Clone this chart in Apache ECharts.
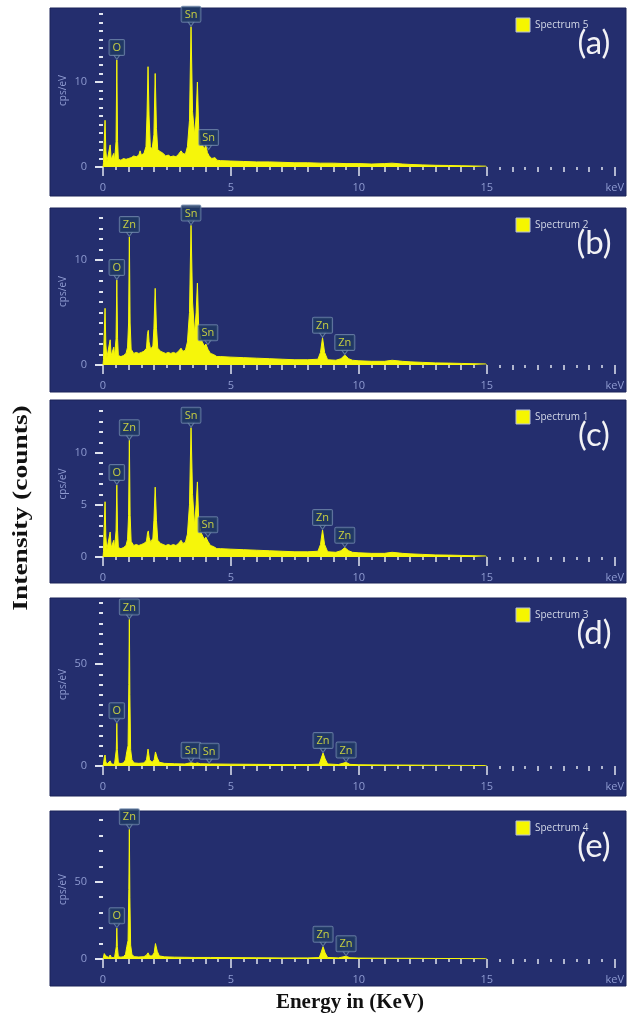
<!DOCTYPE html>
<html><head><meta charset="utf-8">
<script src="https://cdn.jsdelivr.net/npm/echarts@6/dist/echarts.min.js"></script>
<style>html,body{margin:0;padding:0;background:#fff}#c{width:627px;height:1023px}</style>
</head><body><div id="c"></div>
<script>
// ---- data (keV, cps/eV) ----
const panelTags = ['(a)','(b)','(c)','(d)','(e)'];
const legendNames = ['Spectrum 5','Spectrum 2','Spectrum 1','Spectrum 3','Spectrum 4'];
const xTickLabels = [0,5,10,15,20];
const yMax = [18,14,14,80,90];
const yMinorStep = [1,1,1,5,10];
const yTickLabels = [[0,10],[0,10],[0,5,10],[0,50],[0,50]];

const spectrumA = [[0,0],[0.02,0.5],[0.05,3],[0.08,5.5],[0.11,2],[0.15,0.6],[0.22,0.8],[0.28,2.6],[0.32,0.9],[0.38,0.7],[0.42,1.6],[0.45,0.7],[0.49,0.8],[0.51,3],[0.54,12.6],[0.57,3],[0.6,0.9],[0.7,0.8],[0.8,1.0],[0.9,0.9],[1.0,1.0],[1.1,1.1],[1.2,1.3],[1.3,1.2],[1.4,1.4],[1.45,1.9],[1.5,1.4],[1.6,1.6],[1.68,2.4],[1.72,6],[1.76,11.8],[1.8,6],[1.85,2.4],[1.92,2.1],[1.99,3.8],[2.04,11.0],[2.09,4.5],[2.14,2.0],[2.25,1.8],[2.35,1.6],[2.45,1.3],[2.55,1.4],[2.65,1.2],[2.75,1.3],[2.85,1.2],[2.95,1.5],[3.05,1.9],[3.12,1.6],[3.22,1.5],[3.3,2.4],[3.38,5.5],[3.44,16.5],[3.5,6.5],[3.58,3.8],[3.64,6],[3.69,10.0],[3.74,4.5],[3.82,2.8],[3.9,2.5],[3.96,2.1],[4.02,2.6],[4.08,1.7],[4.15,1.3],[4.25,1.0],[4.32,1.2],[4.38,1.1],[4.45,0.8],[4.6,0.75],[5.0,0.7],[5.5,0.65],[6.0,0.6],[6.5,0.6],[7.0,0.55],[7.5,0.5],[8.0,0.5],[8.5,0.45],[9.0,0.45],[9.5,0.4],[10.0,0.4],[10.5,0.35],[11.0,0.4],[11.3,0.45],[11.7,0.35],[12.0,0.3],[12.5,0.25],[13.0,0.2],[13.5,0.18],[14.0,0.15],[14.5,0.12],[14.95,0.1],[15.0,0]];
const spectrumB = [[0,0],[0.02,0.5],[0.05,3],[0.08,5.4],[0.11,2],[0.15,0.7],[0.22,0.8],[0.28,2.4],[0.32,0.9],[0.38,0.8],[0.42,1.7],[0.45,0.8],[0.49,0.9],[0.51,2.5],[0.54,8.1],[0.57,2.5],[0.6,0.9],[0.7,0.8],[0.8,0.9],[0.9,1.1],[0.96,1.7],[1.0,4],[1.03,12.2],[1.06,4],[1.1,1.5],[1.2,1.1],[1.3,1.2],[1.4,1.1],[1.5,1.2],[1.6,1.3],[1.7,1.6],[1.74,3.0],[1.77,3.3],[1.8,2.2],[1.86,1.5],[1.95,1.8],[1.99,3.5],[2.04,7.3],[2.09,3.5],[2.14,1.6],[2.25,1.3],[2.35,1.2],[2.45,1.1],[2.55,1.2],[2.65,1.1],[2.75,1.2],[2.85,1.1],[2.95,1.3],[3.05,1.6],[3.12,1.3],[3.22,1.4],[3.3,2.2],[3.38,5],[3.44,13.3],[3.5,6],[3.58,3],[3.64,5],[3.69,7.8],[3.74,3.5],[3.82,2.5],[3.9,2.1],[3.96,1.8],[4.02,2.0],[4.1,1.5],[4.2,1.1],[4.32,1.0],[4.45,0.8],[4.6,0.8],[5.0,0.75],[5.5,0.7],[6.0,0.65],[6.5,0.6],[7.0,0.55],[7.5,0.5],[8.0,0.5],[8.4,0.55],[8.5,1.2],[8.58,2.6],[8.66,1.2],[8.78,0.5],[9.1,0.45],[9.3,0.6],[9.45,0.95],[9.6,0.6],[9.75,0.45],[10.0,0.4],[10.5,0.35],[11.0,0.35],[11.3,0.45],[11.7,0.35],[12.0,0.3],[12.5,0.25],[13.0,0.2],[13.5,0.18],[14.0,0.15],[14.5,0.12],[14.95,0.1],[15.0,0]];
const spectrumC = [[0,0],[0.02,0.5],[0.05,3],[0.08,5.3],[0.11,2],[0.15,0.7],[0.22,0.8],[0.28,2.4],[0.32,0.9],[0.38,0.8],[0.42,1.6],[0.45,0.8],[0.49,0.9],[0.51,2.5],[0.54,6.9],[0.57,2.5],[0.6,0.9],[0.7,0.8],[0.8,0.9],[0.9,1.1],[0.96,1.7],[1.0,4],[1.03,11.2],[1.06,4],[1.1,1.5],[1.2,1.1],[1.3,1.2],[1.4,1.1],[1.5,1.2],[1.6,1.3],[1.7,1.5],[1.74,2.3],[1.77,2.5],[1.8,1.9],[1.86,1.4],[1.95,1.8],[1.99,3.5],[2.04,6.7],[2.09,3.5],[2.14,1.6],[2.25,1.3],[2.35,1.2],[2.45,1.1],[2.55,1.2],[2.65,1.1],[2.75,1.2],[2.85,1.1],[2.95,1.3],[3.05,1.6],[3.12,1.3],[3.22,1.4],[3.3,2.2],[3.38,5],[3.44,12.4],[3.5,6],[3.58,3],[3.64,5],[3.69,7.2],[3.74,3.5],[3.82,2.4],[3.9,2.0],[3.96,1.7],[4.02,1.9],[4.1,1.5],[4.2,1.1],[4.32,1.0],[4.45,0.8],[4.6,0.8],[5.0,0.75],[5.5,0.7],[6.0,0.65],[6.5,0.6],[7.0,0.55],[7.5,0.5],[8.0,0.5],[8.4,0.55],[8.5,1.2],[8.58,2.6],[8.66,1.2],[8.78,0.5],[9.1,0.45],[9.3,0.6],[9.45,0.9],[9.6,0.6],[9.75,0.45],[10.0,0.4],[10.5,0.35],[11.0,0.35],[11.3,0.45],[11.7,0.35],[12.0,0.3],[12.5,0.25],[13.0,0.2],[13.5,0.18],[14.0,0.15],[14.5,0.12],[14.95,0.1],[15.0,0]];
const spectrumD = [[0,0],[0.02,1],[0.05,4],[0.08,5.4],[0.11,2],[0.16,1],[0.22,1],[0.28,2.5],[0.33,1],[0.45,0.8],[0.5,1.5],[0.52,8],[0.54,21],[0.56,8],[0.6,1.5],[0.7,1.2],[0.8,1.5],[0.88,3],[0.93,7],[0.98,10],[1.01,40],[1.03,72],[1.05,35],[1.08,8],[1.13,3],[1.22,1.5],[1.4,1.3],[1.6,1.5],[1.7,3],[1.76,8.3],[1.82,3],[1.92,1.8],[2.0,3],[2.05,6.9],[2.12,4],[2.2,1.8],[2.4,1.3],[2.8,1.1],[3.2,1.0],[3.44,1.6],[3.6,1.2],[3.69,1.5],[3.8,1.1],[4.2,1.0],[5,0.9],[6,0.8],[7,0.7],[8,0.7],[8.45,0.9],[8.52,3.5],[8.6,6.4],[8.68,3.5],[8.78,1],[9.2,0.7],[9.5,1.8],[9.65,0.8],[10,0.6],[11,0.5],[12,0.45],[13,0.35],[14,0.3],[14.95,0.2],[15,0]];
const spectrumE = [[0,0],[0.02,1],[0.05,3.5],[0.08,4.5],[0.11,2],[0.16,1],[0.22,1],[0.28,2.6],[0.33,1],[0.45,0.8],[0.5,1.5],[0.52,8],[0.54,20],[0.56,8],[0.6,1.5],[0.7,1.2],[0.8,1.5],[0.88,3],[0.93,8],[0.98,12],[1.01,45],[1.03,84],[1.05,40],[1.08,9],[1.13,3],[1.22,1.5],[1.4,1.3],[1.6,1.5],[1.7,2.5],[1.76,4],[1.82,2],[1.92,2],[2.0,4],[2.05,10],[2.12,5],[2.2,2],[2.4,1.4],[2.8,1.2],[3.2,1.1],[3.6,1.0],[4.2,1.0],[5,0.9],[6,0.8],[7,0.7],[8,0.7],[8.45,0.9],[8.52,4],[8.6,8],[8.68,4],[8.78,1],[9.2,0.7],[9.5,1.8],[9.65,0.8],[10,0.6],[11,0.5],[12,0.45],[13,0.35],[14,0.3],[14.95,0.2],[15,0]];

// peak labels: [keV, cps/eV at peak top, element]
const peaksA = [[0.54,12.6,'O'],[3.44,16.5,'Sn'],[4.13,2.0,'Sn']];
const peaksB = [[0.54,8.1,'O'],[1.03,12.2,'Zn'],[3.44,13.3,'Sn'],[4.1,1.9,'Sn'],[8.58,2.6,'Zn'],[9.45,0.95,'Zn']];
const peaksC = [[0.54,6.9,'O'],[1.03,11.2,'Zn'],[3.44,12.4,'Sn'],[4.1,1.9,'Sn'],[8.58,2.6,'Zn'],[9.45,0.9,'Zn']];
const peaksD = [[0.54,21,'O'],[1.03,72,'Zn'],[3.44,1.6,'Sn'],[4.15,1.2,'Sn'],[8.6,6.4,'Zn'],[9.5,1.8,'Zn']];
const peaksE = [[0.54,20,'O'],[1.03,84,'Zn'],[8.6,8,'Zn'],[9.5,1.8,'Zn']];

const spectra = [spectrumA,spectrumB,spectrumC,spectrumD,spectrumE];
const peaks = [peaksA,peaksB,peaksC,peaksD,peaksE];

// ---- layout ----
const panels = [[8,196],[208,392],[400,583],[598,796],[811,986]];
const gridTB = [[14,167],[218,365],[411,557],[603,766],[820,959]];
const H = 1023;
const BG = '#242e6e', YEL = '#f6f60a', TICK = '#dfe3ef', LAB = '#8e9ad0';

const grid=[], xAxis=[], yAxis=[], series=[], graphic=[];
for (let i=0;i<5;i++){
  grid.push({left:103, right:6, top:gridTB[i][0], bottom:H-gridTB[i][1], containLabel:false});
  xAxis.push({gridIndex:i, type:'value', min:0, max:20, interval:1, position:'bottom', offset:3,
    axisLine:{show:false}, splitLine:{show:false},
    axisTick:{show:true, length:5, lineStyle:{color:TICK, width:1.5}},
    minorTick:{show:true, splitNumber:2, length:3, lineStyle:{color:TICK, width:1.5}},
    axisLabel:{customValues:xTickLabels, margin:12, color:LAB, fontSize:11, fontFamily:'Open Sans',
      formatter:v=> v===20?'keV':String(v)}});
  xAxis.push({gridIndex:i, type:'value', min:0, max:20, interval:5, position:'bottom', offset:3,
    axisLine:{show:false}, splitLine:{show:false}, axisLabel:{show:false},
    axisTick:{show:true, length:9, lineStyle:{color:TICK, width:1.5}}});
  yAxis.push({gridIndex:i, type:'value', min:0, max:yMax[i], interval:yMinorStep[i], position:'left', offset:5,
    axisLine:{show:false}, splitLine:{show:false},
    axisTick:{show:true, length:4, lineStyle:{color:TICK, width:2}},
    axisLabel:{customValues:yTickLabels[i], margin:11, color:LAB, fontSize:11, fontFamily:'Open Sans'},
    name:'cps/eV', nameLocation:'middle', nameGap:30, nameRotate:90, nameMoveOverlap:false,
    nameTextStyle:{color:LAB, fontSize:10, fontFamily:'Open Sans'}});
  yAxis.push({gridIndex:i, type:'value', min:0, max:yMax[i], position:'left', offset:5,
    axisLine:{show:false}, splitLine:{show:false}, axisLabel:{show:false},
    axisTick:{show:true, length:8, customValues:yTickLabels[i], lineStyle:{color:TICK, width:2}}});
  series.push({type:'line', xAxisIndex:2*i, yAxisIndex:2*i, data:spectra[i], symbol:'none', smooth:false,
    lineStyle:{color:YEL, width:1}, areaStyle:{color:YEL, opacity:1}, z:3, silent:true});
  series.push({type:'scatter', xAxisIndex:2*i, yAxisIndex:2*i, symbol:'triangle', symbolRotate:180,
    symbolSize:[7,5], symbolOffset:[0,-3], z:5, silent:true,
    itemStyle:{color:'#1f3963', borderColor:'#7088ab', borderWidth:1},
    data:peaks[i].map(p=>({value:[p[0],p[1]], name:p[2]})),
    label:{show:true, position:'top', distance:-1, formatter:'{b}', color:'#eef23a', fontSize:11,
      lineHeight:12, fontFamily:'Open Sans', backgroundColor:'#1f3963', borderColor:'#7088ab', borderWidth:1,
      borderRadius:1, padding:[2,3,1,3]}});
  const [pt,pb] = panels[i];
  graphic.push({type:'rect', z:-10, shape:{x:50, y:pt, width:576, height:pb-pt},
    style:{fill:BG, stroke:'#1b2258', lineWidth:1}});
  graphic.push({type:'rect', z:50, shape:{x:516, y:pt+10, width:14, height:14},
    style:{fill:'#f6f600', stroke:'#b8c0d8', lineWidth:1}});
  graphic.push({type:'text', z:50, x:535, y:pt+17, style:{text:legendNames[i], fill:'#d4d9e8',
    font:'10px "Open Sans"', textVerticalAlign:'middle'}});
  graphic.push({type:'text', z:60, x:594, y:pt+35, style:{text:panelTags[i], fill:'#f2f2f5',
    font:'33px Lato', textAlign:'center', textVerticalAlign:'middle'}});
}
graphic.push({type:'text', z:60, x:21, y:508, rotation:Math.PI/2, scaleX:1.25, style:{text:'Intensity (counts)',
  fill:'#111', font:'bold 22px "Liberation Serif"', textAlign:'center', textVerticalAlign:'middle'}});
graphic.push({type:'text', z:60, x:350, y:1003, style:{text:'Energy in (KeV)',
  fill:'#111', font:'bold 21px "Liberation Serif"', textAlign:'center', textVerticalAlign:'middle'}});

const chart = echarts.init(document.getElementById('c'), null, {renderer:'canvas'});
chart.setOption({animation:false, backgroundColor:'#ffffff', grid, xAxis, yAxis, series, graphic});
</script></body></html>
